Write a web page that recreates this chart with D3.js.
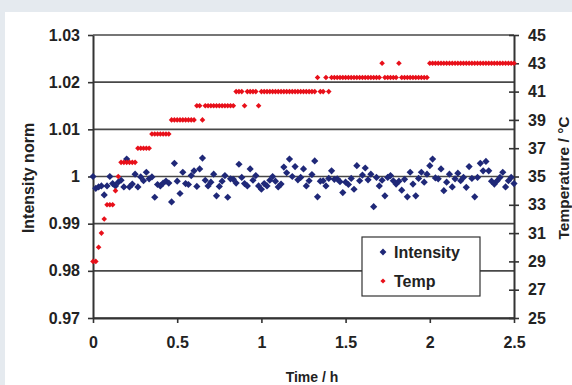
<!DOCTYPE html>
<html>
<head>
<meta charset="utf-8">
<script src="https://cdn.jsdelivr.net/npm/d3@7"></script>
<style>
  body { margin: 0; background: #e5eaef; }
  svg { display: block; }
  text { font-family: "Liberation Sans", Arial, sans-serif; font-weight: bold; fill: #222; }
</style>
</head>
<body>
<div id="chart"></div>
<script>
// sample times in minutes (one reading per minute)
const minutes = [
  0,1,2,3,4,5,6,7,8,9,10,11,12,13,14,15,16,17,18,19,20,21,22,23,24,25,26,27,28,29,
  30,31,32,33,34,35,36,37,38,39,40,41,42,43,44,45,46,47,48,49,50,51,52,53,54,55,56,57,58,59,
  60,61,62,63,64,65,66,67,68,69,70,71,72,73,74,75,76,77,78,79,80,81,82,83,84,85,86,87,88,89,
  90,91,92,93,94,95,96,97,98,99,100,101,102,103,104,105,106,107,108,109,110,111,112,113,114,115,116,117,118,119,
  120,121,122,123,124,125,126,127,128,129,130,131,132,133,134,135,136,137,138,139,140,141,142,143,144,145,146,147,148,149,150
];

// normalised intensity
const intensity = [
  1.0000,0.9975,0.9978,0.9980,0.9961,0.9980,1.0000,0.9985,0.9980,0.9988,
  0.9992,0.9978,1.0037,0.9978,0.9984,1.0005,0.9978,0.9999,0.9991,1.0009,
  0.9995,0.9999,0.9956,0.9983,0.9980,0.9986,0.9990,0.9986,0.9946,1.0028,
  0.9990,0.9964,1.0009,0.9985,0.9983,1.0002,1.0012,0.9979,1.0016,1.0039,
  0.9992,0.9980,0.9988,1.0005,0.9959,0.9979,0.9990,1.0002,0.9956,0.9995,
  0.9994,0.9986,1.0026,0.9998,0.9985,0.9980,1.0016,0.9992,1.0002,0.9980,
  0.9973,0.9985,0.9980,0.9992,1.0000,0.9990,0.9978,0.9984,1.0020,1.0008,
  1.0037,1.0000,1.0021,0.9993,0.9998,1.0016,0.9980,0.9991,1.0004,1.0033,
  0.9957,0.9990,0.9991,0.9980,0.9996,1.0012,0.9994,0.9995,0.9989,0.9966,
  0.9988,0.9983,0.9996,0.9973,1.0023,0.9991,1.0003,1.0018,0.9993,1.0005,
  0.9936,0.9998,0.9980,0.9992,0.9959,0.9998,1.0002,0.9991,0.9984,0.9990,
  0.9971,0.9994,0.9957,1.0009,0.9984,0.9959,0.9996,1.0009,0.9988,1.0005,
  1.0023,1.0037,0.9997,0.9995,1.0016,0.9970,0.9988,1.0005,0.9978,0.9995,
  1.0007,0.9991,0.9998,0.9977,1.0021,0.9996,0.9957,0.9998,1.0028,1.0012,
  1.0032,1.0012,0.9990,0.9984,0.9991,0.9998,1.0009,0.9978,0.9991,0.9998,
  0.9985
];

// temperature in °C
const temp = [
  29,29,30,31,32,33,33,33,34,35,
  36,36,36,36,36,36,37,37,37,37,
  37,38,38,38,38,38,38,38,39,39,
  39,39,39,39,39,39,39,40,40,39,
  40,40,40,40,40,40,40,40,40,40,
  40,41,41,41,40,41,41,41,41,40,
  41,41,41,41,41,41,41,41,41,41,
  41,41,41,41,41,41,41,41,41,41,
  42,41,41,42,41,42,42,42,42,42,
  42,42,42,42,42,42,42,42,42,42,
  42,42,42,43,42,42,42,42,42,43,
  42,42,42,42,42,42,42,42,42,42,
  43,43,43,43,43,43,43,43,43,43,
  43,43,43,43,43,43,43,43,43,43,
  43,43,43,43,43,43,43,43,43,43,
  43
];

const xTicks = [0, 0.5, 1, 1.5, 2, 2.5];
const xTickLabels = ["0", "0.5", "1", "1.5", "2", "2.5"];
const leftTicks = [0.97, 0.98, 0.99, 1.00, 1.01, 1.02, 1.03];
const leftTickLabels = ["0.97", "0.98", "0.99", "1", "1.01", "1.02", "1.03"];
const rightTicks = [25, 27, 29, 31, 33, 35, 37, 39, 41, 43, 45];
const seriesNames = ["Intensity", "Temp"];
const seriesColors = ["#1f2878", "#e8101a"];

const width = 572, height = 385;
const plot = { left: 93, right: 514, top: 35, bottom: 318 };
const axisColor = "#333";

const svg = d3.select("#chart").append("svg")
    .attr("width", width)
    .attr("height", height);

svg.append("rect")
    .attr("x", 5).attr("y", 12)
    .attr("width", width - 5).attr("height", height - 12)
    .attr("fill", "#fff");

const x = d3.scaleLinear().domain([0, 2.5]).range([plot.left, plot.right]);
const yL = d3.scaleLinear().domain([0.97, 1.03]).range([plot.bottom, plot.top]);
const yR = d3.scaleLinear().domain([25, 45]).range([plot.bottom, plot.top]);

// horizontal gridlines
svg.append("g").selectAll("line")
  .data(leftTicks)
  .enter().append("line")
    .attr("x1", plot.left).attr("x2", plot.right)
    .attr("y1", d => yL(d)).attr("y2", d => yL(d))
    .attr("stroke", "#484848")
    .attr("stroke-width", 1.6);

// axes
const leftAxis = d3.axisLeft(yL)
    .tickValues(leftTicks)
    .tickFormat((d, i) => leftTickLabels[i])
    .tickSize(5).tickSizeOuter(0).tickPadding(8);
const rightAxis = d3.axisRight(yR)
    .tickValues(rightTicks)
    .tickSize(5).tickSizeOuter(0).tickPadding(9);
const bottomAxis = d3.axisBottom(x)
    .tickValues(xTicks)
    .tickFormat((d, i) => xTickLabels[i])
    .tickSize(5).tickSizeOuter(0).tickPadding(14);

const gl = svg.append("g").attr("transform", "translate(" + plot.left + ",0)").call(leftAxis);
const gr = svg.append("g").attr("transform", "translate(" + plot.right + ",0)").call(rightAxis);
const gb = svg.append("g").attr("transform", "translate(0," + plot.bottom + ")").call(bottomAxis);

gr.selectAll(".tick line").attr("x1", -5);   // right ticks cross the axis

[gl, gr, gb].forEach(g => {
  g.select(".domain").attr("stroke", axisColor).attr("stroke-width", 2);
  g.selectAll(".tick line").attr("stroke", axisColor).attr("stroke-width", 1.6);
  g.selectAll(".tick text").style("font-size", "16px").attr("fill", "#222");
});

// markers
const diamond = r => "M0," + (-r) + "L" + r + ",0L0," + r + "L" + (-r) + ",0Z";

svg.append("g").selectAll("path")
  .data(minutes)
  .enter().append("path")
    .attr("d", diamond(3.6))
    .attr("transform", (d, i) => "translate(" + x(d / 60) + "," + yL(intensity[i]) + ")")
    .attr("fill", seriesColors[0]);

svg.append("g").selectAll("path")
  .data(minutes)
  .enter().append("path")
    .attr("d", diamond(2.8))
    .attr("transform", (d, i) => "translate(" + x(d / 60) + "," + yR(temp[i]) + ")")
    .attr("fill", seriesColors[1]);

// legend
const legend = svg.append("g").attr("transform", "translate(362,237)");
legend.append("rect")
    .attr("width", 118).attr("height", 59)
    .attr("fill", "#fff")
    .attr("stroke", "#333").attr("stroke-width", 1.2);
seriesNames.forEach((name, i) => {
  legend.append("path")
      .attr("d", diamond(i === 0 ? 3.4 : 2.6))
      .attr("transform", "translate(21," + (15 + i * 29) + ")")
      .attr("fill", seriesColors[i]);
  legend.append("text")
      .attr("x", 32).attr("y", 21 + i * 29)
      .style("font-size", "16px")
      .text(name);
});

// axis titles
svg.append("text")
    .attr("x", 312).attr("y", 382)
    .attr("text-anchor", "middle")
    .style("font-size", "14px")
    .text("Time / h");

svg.append("text")
    .attr("transform", "translate(34,178) rotate(-90)")
    .attr("text-anchor", "middle")
    .style("font-size", "16px")
    .text("Intensity norm");

svg.append("text")
    .attr("transform", "translate(569,178) rotate(-90)")
    .attr("text-anchor", "middle")
    .style("font-size", "15.5px")
    .text("Temperature / °C");
</script>
</body>
</html>
